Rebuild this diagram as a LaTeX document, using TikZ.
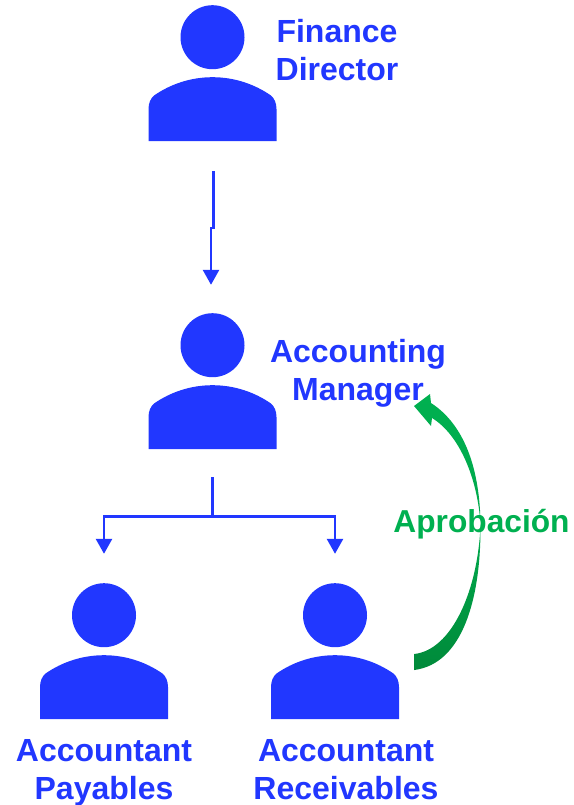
\documentclass[tikz,border=0pt]{standalone}
\usepackage{fontspec}
\setmainfont{Liberation Sans}
\usetikzlibrary{arrows.meta,calc}
\definecolor{pblue}{HTML}{2137FF}
\definecolor{pgreen}{HTML}{00B050}
\definecolor{pgreendark}{HTML}{008A3A}
\tikzset{
  x=1pt,y=-1pt,
  personbox/.style={inner sep=0pt,minimum width=128pt,minimum height=136pt},
  rolelabel/.style={text=pblue,font=\fontsize{32}{38}\selectfont\bfseries,align=center,inner sep=0pt},
  greenlabel/.style={text=pgreen,font=\fontsize{31.7}{38}\selectfont\bfseries,inner sep=0pt},
  link/.style={draw=pblue,line width=2.7pt,-{Triangle[length=15pt,width=16pt]}},
  linkplain/.style={draw=pblue,line width=2.7pt},
}
\newcommand{\personfig}[3]{%
  \node[personbox] (#1) at (#2,#3) {};
  \begin{scope}[shift={(#1.south)}]
  \fill[pblue] (0,-104) circle[radius=32];
  \fill[pblue] (-64,0) -- (-64,-32)
    .. controls (-64,-38) and (-62,-43) .. (-58,-46)
    .. controls (-42,-57) and (-22,-64) .. (0,-64)
    .. controls (22,-64) and (42,-57) .. (58,-46)
    .. controls (62,-43) and (64,-38) .. (64,-32)
    -- (64,0) -- cycle;
  \end{scope}
}
\begin{document}
\begin{tikzpicture}
\useasboundingbox (0,0) rectangle (573,805);
\personfig{fd}{212.5}{73}
\personfig{am}{212.5}{381}
\personfig{ap}{104}{651}
\personfig{ar}{335}{651}
\node[rolelabel] (fdl) at (337,50.5) {Finance\\Director};
\node[rolelabel] (aml) at (358,373.5) {Accounting\\Manager};
\node[rolelabel] (apl) at (104,773) {Accountant\\Payables};
\node[rolelabel] (arl) at (346,770) {Accountant\\Receivables};
\node[greenlabel] (apr) at (481.5,524) {Aprobación};
% Finance Director -> Accounting Manager
\coordinate (a1) at ($(fd.south)+(1,30)$);
\coordinate (a2) at ($(am.north)+(-1.5,-28)$);
\draw[link] (a1) |- ($(a1)!0.5!(a2)$) -| (a2);
% Accounting Manager -> accountants
\coordinate (b0) at ($(am.south)+(0,28)$);
\coordinate (b1) at ($(ap.north)+(0,-29)$);
\coordinate (b2) at ($(ar.north)+(0,-29)$);
\coordinate (bm) at ($(b0)+(0,39)$);
\draw[linkplain] (b0) -- (bm);
\draw[link] (bm) -| (b1);
\draw[link] (bm) -| (b2);
% Approval arrow
\coordinate (g0) at ($(ar.east)+(15,11)$);
\coordinate (g1) at (414,406);
\shade[top color=pgreen,bottom color=pgreendark,middle color=pgreen!80!pgreendark]
  ($(g0)+(0,8)$)
  .. controls (462,664) and (481,600) .. (480.5,525)
  .. controls (480,470) and (465,425) .. (431,403)
  -- (430,394) -- (g1) -- (431,426) -- (432,418)
  .. controls (460,435) and (478,480) .. (480.5,525)
  .. controls (478,590) and (452,650) .. ($(g0)+(0,-8)$)
  -- cycle;
\end{tikzpicture}
\end{document}
